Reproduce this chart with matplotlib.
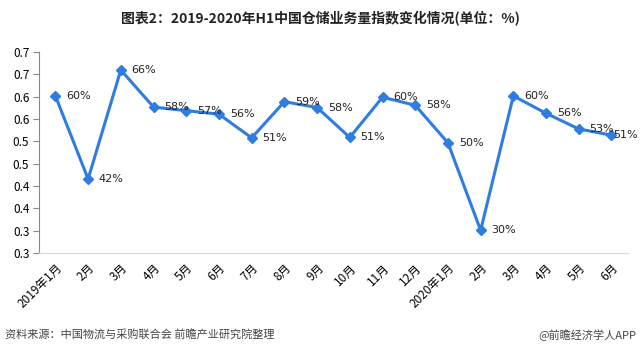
import numpy as np
import matplotlib.pyplot as plt
from matplotlib.ticker import FuncFormatter

plt.rcParams['font.family'] = ['Noto Sans CJK SC', 'DejaVu Sans']

months = ['2019年1月', '2月', '3月', '4月', '5月', '6月', '7月', '8月', '9月',
          '10月', '11月', '12月', '2020年1月', '2月', '3月', '4月', '5月', '6月']
index_vals = [0.602, 0.416, 0.660, 0.577, 0.569, 0.561, 0.508, 0.589, 0.576,
              0.509, 0.599, 0.581, 0.497, 0.301, 0.602, 0.563, 0.528, 0.514]

fig = plt.figure(figsize=(6.4, 3.57), dpi=100)
ax = fig.add_axes([0.061, 0.291, 0.92, 0.563])

x = np.arange(len(months))
ax.plot(x, index_vals, color='#2f7de1', lw=2.2, marker='D', ms=5.5,
        markeredgecolor='#2f7de1', zorder=3)
for xi, v in zip(x, index_vals):
    dx = 0.33 if xi < len(months) - 1 else 0.05
    ax.text(xi + dx, v, '%d%%' % round(v * 100), fontsize=8, va='center',
            ha='left', color='#222222', family=['DejaVu Sans'], zorder=4)

ax.set_xlim(-0.5, len(months) - 0.5)
ax.set_ylim(0.25, 0.70)
ax.set_yticks(np.arange(0.25, 0.701, 0.05))
# excel style one-decimal labels (0.25 -> 0.3 etc.)
ax.yaxis.set_major_formatter(FuncFormatter(lambda v, p: '%.1f' % (np.floor(v * 10 + 0.5 + 1e-9) / 10)))
ax.set_xticks(x)
ax.set_xticklabels(months, rotation=45, ha='right', rotation_mode='anchor', fontsize=8.5)
ax.tick_params(axis='x', length=0, pad=6)
ax.tick_params(axis='y', length=4, color='#888888', labelsize=8.5, pad=3)

for s in ['top', 'right']:
    ax.spines[s].set_visible(False)
ax.spines['left'].set_color('#888888')
ax.spines['bottom'].set_color('#d9d9d9')

fig.text(0.5, 0.948, '图表2：2019-2020年H1中国仓储业务量指数变化情况(单位：%)',
         ha='center', va='center', fontsize=10, fontweight='bold', color='#222222')
fig.text(0.008, 0.062, '资料来源：中国物流与采购联合会 前瞻产业研究院整理',
         ha='left', va='center', fontsize=8, color='#444444')
fig.text(0.995, 0.062, '@前瞻经济学人APP', ha='right', va='center',
         fontsize=8, color='#444444')

fig.savefig('out.png', dpi=100)
